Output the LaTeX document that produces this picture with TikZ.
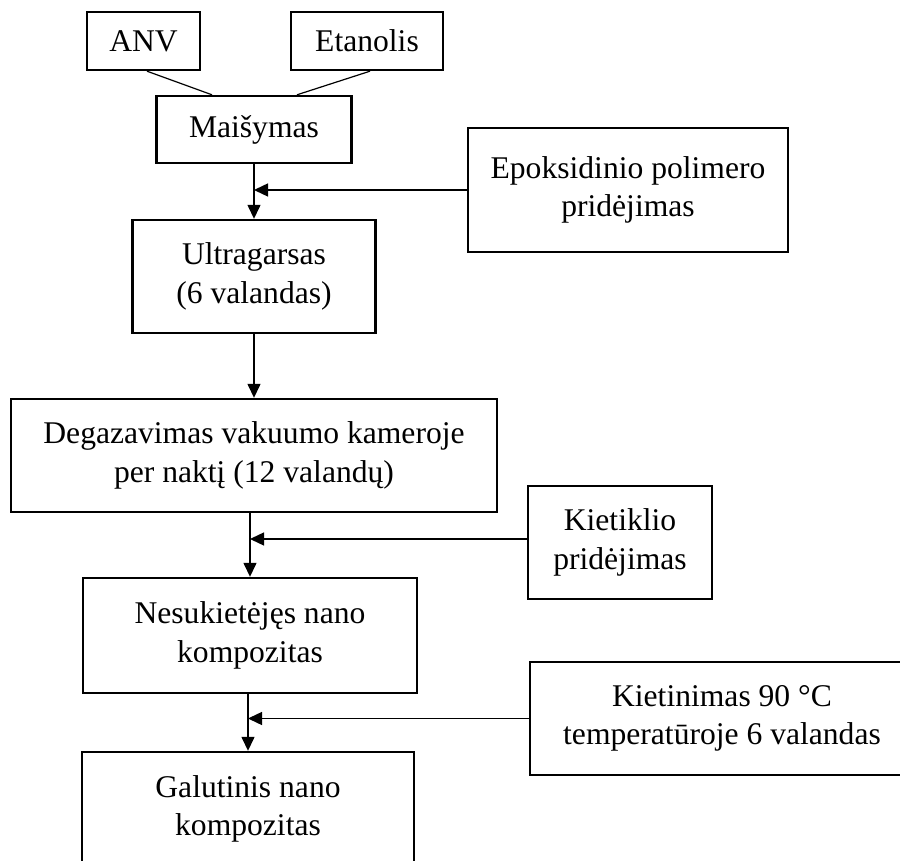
\documentclass[tikz,border=0pt]{standalone}
\usepackage{fontspec}
\setmainfont{Liberation Serif}
\usetikzlibrary{arrows.meta,positioning,calc}

\tikzset{
  stage/.style={draw, line width=1.2pt, align=center, inner sep=0pt,
    font=\fontsize{15.8}{19.3}\selectfont},
  flow/.style={-{Triangle[length=7pt,width=6.5pt]}, line width=0.7pt},
  mixline/.style={line width=0.6pt}
}

\begin{document}
\begin{tikzpicture}[x=0.5pt, y=-0.5pt]
  \clip (0,0) rectangle (900,861);

  % Inputs
  \node[stage, minimum width=56.5pt, minimum height=29pt] (anv)    at (143.5,41) {ANV};
  \node[stage, minimum width=76pt,   minimum height=29pt] (etanol) at (367,41)   {Etanolis};

  % Main process column
  \node[stage, minimum width=97.5pt, minimum height=33.5pt] (maisym) at (254,129.5) {Maišymas};
  \node[stage, minimum width=121.5pt, minimum height=56.5pt] (ultra) at (254,276.5) {Ultragarsas\\(6 valandas)};
  \node[stage, minimum width=243pt, minimum height=56.5pt] (degaz) at (254,455.5) {Degazavimas vakuumo kameroje\\per naktį (12 valandų)};
  \node[stage, minimum width=167pt, minimum height=57.5pt] (nesuk) at (250,635.5) {Nesukietėjęs nano\\kompozitas};
  \node[stage, minimum width=166pt, minimum height=57pt] (galut) at (248,809) {Galutinis nano\\kompozitas};

  % Additions from the right
  \node[stage, minimum width=160pt, minimum height=62pt] (epoks) at (628,190) {Epoksidinio polimero\\pridėjimas};
  \node[stage, minimum width=92pt, minimum height=56.5pt] (kietikl) at (620,542.5) {Kietiklio\\pridėjimas};
  \node[stage, minimum width=192pt, minimum height=56.5pt] (kietin) at (722,718.5) {Kietinimas 90 °C\\temperatūroje 6 valandas};

  % Inputs joined to mixing
  \draw[mixline] ($(anv.south)+(3.5,0)$) -- ($(maisym.north)+(-42,0)$);
  \draw[mixline] ($(etanol.south)+(3,0)$) -- ($(maisym.north)+(43,0)$);

  % Flow down the column
  \draw[flow] (maisym.south) -- (maisym.south |- ultra.north);
  \draw[flow] (ultra.south) -- (ultra.south |- degaz.north);
  \draw[flow] (degaz.south -| nesuk.north) -- (nesuk.north);
  \draw[flow] (nesuk.south -| galut.north) -- (galut.north);

  % Side feeds
  \draw[flow] (epoks.west) -- (epoks.west -| maisym.south);
  \draw[flow] ($(kietikl.west)+(0,-3.5)$) -- ($(kietikl.west -| nesuk.north)+(0,-3.5)$);
  \draw[flow] (kietin.west) -- (kietin.west -| galut.north);
\end{tikzpicture}
\end{document}
